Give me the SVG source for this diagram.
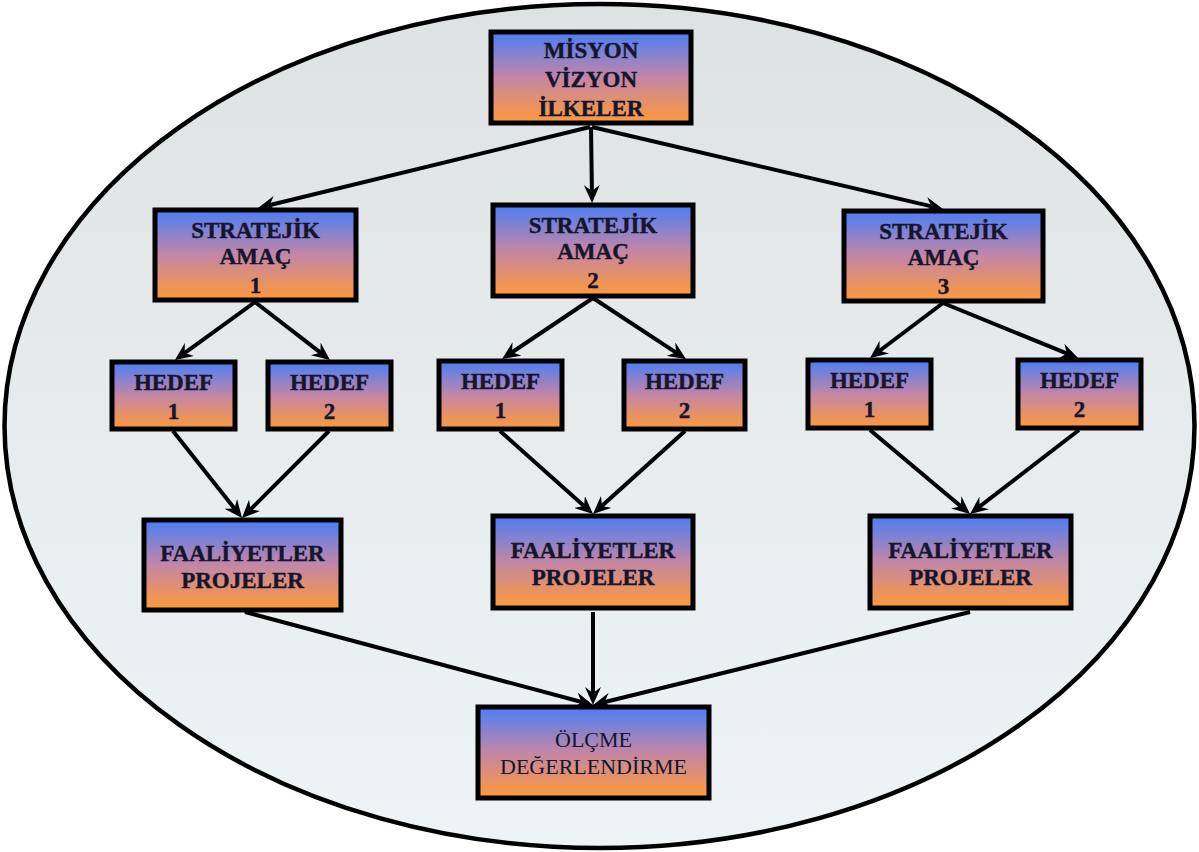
<svg xmlns="http://www.w3.org/2000/svg" width="1199" height="852" viewBox="0 0 1199 852">
<defs>
<linearGradient id="bg" x1="0" y1="0" x2="0" y2="1">
<stop offset="0" stop-color="#dfe2e3"/>
<stop offset="1" stop-color="#eef4f6"/>
</linearGradient>
<linearGradient id="box" x1="0" y1="0" x2="0" y2="1">
<stop offset="0" stop-color="#4a7ef6"/>
<stop offset="0.5" stop-color="#c386a6"/>
<stop offset="1" stop-color="#ff9a38"/>
</linearGradient>
<marker id="ah" viewBox="0 0 18 16" markerWidth="18" markerHeight="16" markerUnits="userSpaceOnUse" refX="13" refY="8" orient="auto">
<path d="M0,0 L18,8 L0,16 L6,8 z" fill="#000"/>
</marker>
<style>
.b{fill:url(#box);stroke:#000;stroke-width:5}
.t{font-family:"Liberation Serif","Times New Roman",serif;font-weight:bold;font-size:23px;fill:#15152e;stroke:#15152e;stroke-width:0.4;text-anchor:middle}
.r{font-weight:normal;font-size:22px;stroke-width:0}
.c line{stroke:#000;stroke-width:4;marker-end:url(#ah)}
</style>
</defs>
<rect width="1199" height="852" fill="#fff"/>
<ellipse cx="599.5" cy="426" rx="595" ry="422" fill="url(#bg)" stroke="#000" stroke-width="4.5"/>
<g id="connectors" class="c">
<line x1="590" y1="127" x2="262.9" y2="206.8"/>
<line x1="591" y1="127" x2="592" y2="198"/>
<line x1="592" y1="127" x2="938.1" y2="207.9"/>
<line x1="255" y1="302" x2="179" y2="357.1"/>
<line x1="255" y1="302" x2="326" y2="356.9"/>
<line x1="593" y1="298" x2="506.2" y2="356.2"/>
<line x1="593" y1="298" x2="681.8" y2="356.3"/>
<line x1="943" y1="303" x2="874" y2="355"/>
<line x1="943" y1="303" x2="1073.4" y2="356.1"/>
<line x1="173" y1="431" x2="238.9" y2="514.1"/>
<line x1="329" y1="431" x2="245.5" y2="514.5"/>
<line x1="500" y1="431" x2="589.3" y2="510.7"/>
<line x1="685" y1="431" x2="596.7" y2="510.6"/>
<line x1="870" y1="430" x2="966.2" y2="510.8"/>
<line x1="1079" y1="430" x2="974" y2="510.9"/>
<line x1="245" y1="612" x2="588.2" y2="703.7"/>
<line x1="593" y1="612" x2="593" y2="700"/>
<line x1="970" y1="612" x2="597.9" y2="703.8"/>
</g>
<g id="misyon">
<rect class="b" x="491" y="32" width="200" height="91"/>
<text class="t" x="591" y="58">MİSYON</text>
<text class="t" x="591" y="87">VİZYON</text>
<text class="t" x="591" y="116">İLKELER</text>
</g>
<g id="amac1">
<rect class="b" x="155" y="210" width="201" height="90"/>
<text class="t" x="255.5" y="238">STRATEJİK</text>
<text class="t" x="255.5" y="264">AMAÇ</text>
<text class="t" x="255.5" y="293">1</text>
</g>
<g id="amac2">
<rect class="b" x="493" y="205" width="200" height="91"/>
<text class="t" x="593" y="233">STRATEJİK</text>
<text class="t" x="593" y="259">AMAÇ</text>
<text class="t" x="593" y="288">2</text>
</g>
<g id="amac3">
<rect class="b" x="844" y="211" width="199" height="90"/>
<text class="t" x="943.5" y="239">STRATEJİK</text>
<text class="t" x="943.5" y="265">AMAÇ</text>
<text class="t" x="943.5" y="294">3</text>
</g>
<g id="hedef1a">
<rect class="b" x="112" y="362" width="123" height="67"/>
<text class="t" x="173.5" y="390">HEDEF</text>
<text class="t" x="173.5" y="419">1</text>
</g>
<g id="hedef2a">
<rect class="b" x="268" y="362" width="123" height="67"/>
<text class="t" x="329.5" y="390">HEDEF</text>
<text class="t" x="329.5" y="419">2</text>
</g>
<g id="hedef1b">
<rect class="b" x="439" y="361" width="123" height="68"/>
<text class="t" x="500.5" y="389">HEDEF</text>
<text class="t" x="500.5" y="418">1</text>
</g>
<g id="hedef2b">
<rect class="b" x="624" y="361" width="121" height="68"/>
<text class="t" x="684.5" y="389">HEDEF</text>
<text class="t" x="684.5" y="418">2</text>
</g>
<g id="hedef1c">
<rect class="b" x="808" y="360" width="123" height="68"/>
<text class="t" x="869.5" y="388">HEDEF</text>
<text class="t" x="869.5" y="417">1</text>
</g>
<g id="hedef2c">
<rect class="b" x="1018" y="360" width="123" height="68"/>
<text class="t" x="1079.5" y="388">HEDEF</text>
<text class="t" x="1079.5" y="417">2</text>
</g>
<g id="faaliyet1">
<rect class="b" x="144" y="520" width="197" height="90"/>
<text class="t" x="242.5" y="561">FAALİYETLER</text>
<text class="t" x="242.5" y="588">PROJELER</text>
</g>
<g id="faaliyet2">
<rect class="b" x="493" y="516" width="200" height="92"/>
<text class="t" x="593" y="558">FAALİYETLER</text>
<text class="t" x="593" y="585">PROJELER</text>
</g>
<g id="faaliyet3">
<rect class="b" x="870" y="516" width="201" height="92"/>
<text class="t" x="970.5" y="558">FAALİYETLER</text>
<text class="t" x="970.5" y="585">PROJELER</text>
</g>
<g id="olcme">
<rect class="b" x="478" y="707" width="231" height="91"/>
<text class="t r" x="593.5" y="747">ÖLÇME</text>
<text class="t r" x="593.5" y="774">DEĞERLENDİRME</text>
</g>
</svg>
